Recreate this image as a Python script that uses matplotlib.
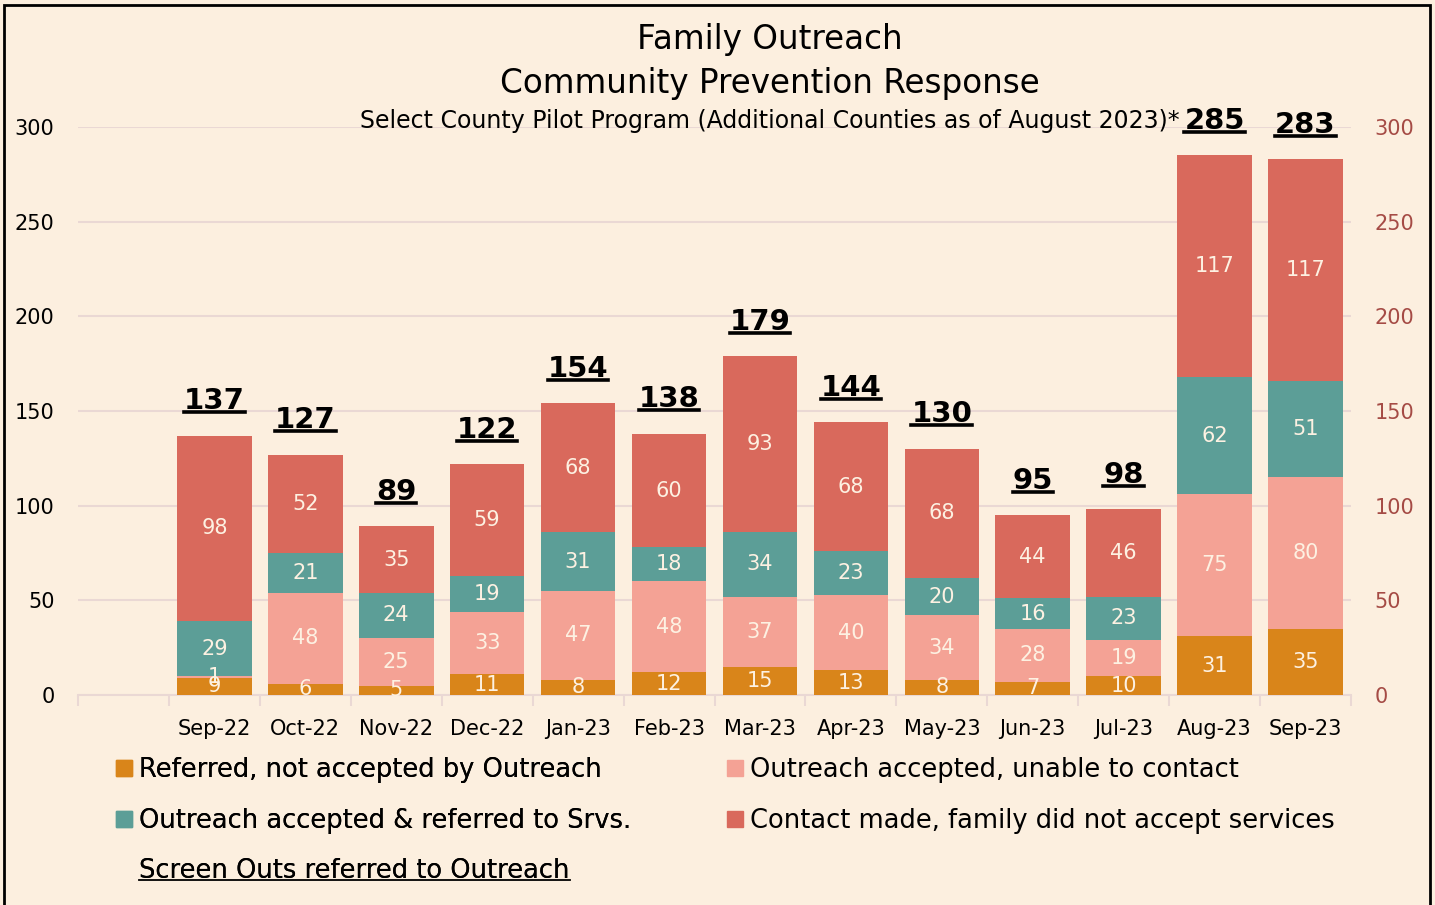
"""
Family Outreach - Community Prevention Response stacked bar chart.
"""

import numpy as np
import matplotlib
matplotlib.use("Agg")
import matplotlib.pyplot as plt
from matplotlib.lines import Line2D
from matplotlib.patches import Rectangle

months = ['Sep-22', 'Oct-22', 'Nov-22', 'Dec-22', 'Jan-23', 'Feb-23', 'Mar-23',
          'Apr-23', 'May-23', 'Jun-23', 'Jul-23', 'Aug-23', 'Sep-23']
referred_not_accepted = [9, 6, 5, 11, 8, 12, 15, 13, 8, 7, 10, 31, 35]
unable_to_contact = [1, 48, 25, 33, 47, 48, 37, 40, 34, 28, 19, 75, 80]
referred_to_srvs = [29, 21, 24, 19, 31, 18, 34, 23, 20, 16, 23, 62, 51]
did_not_accept = [98, 52, 35, 59, 68, 60, 93, 68, 68, 44, 46, 117, 117]
screen_outs = [137, 127, 89, 122, 154, 138, 179, 144, 130, 95, 98, 285, 283]

series = [
    ('Referred, not accepted by Outreach', referred_not_accepted, '#d9851a'),
    ('Outreach accepted, unable to contact', unable_to_contact, '#f4a295'),
    ('Outreach accepted & referred to Srvs.', referred_to_srvs, '#5c9e97'),
    ('Contact made, family did not accept services', did_not_accept, '#d9695c'),
]

BG = '#fcefdf'
GRID = '#ead8d4'
LABEL_CLR = '#fdf1e2'
RIGHT_CLR = '#a54b45'

plt.rcParams['font.family'] = ['DejaVu Sans']

W, H = 1435, 905
fig = plt.figure(figsize=(W / 100, H / 100), dpi=100, facecolor=BG)
ax = fig.add_axes([78 / W, 1 - 695 / H, (1351 - 78) / W, (695 - 127) / H])
ax.set_facecolor(BG)

# first slot on the category axis is left empty, as in the original
x = np.arange(1, len(months) + 1)
bottom = np.zeros(len(months))
handles = {}
for name, vals, color in series:
    bars = ax.bar(x, vals, width=0.82, bottom=bottom, color=color, label=name, zorder=3)
    ax.bar_label(bars, labels=[str(v) for v in vals], label_type='center',
                 color=LABEL_CLR, fontsize=15, zorder=4)
    handles[name] = Line2D([], [], linestyle='none', marker='s', markersize=11.5,
                           markerfacecolor=color, markeredgecolor=color)
    bottom += np.array(vals)

# totals (screen outs) drawn as an invisible series with labels
ax.plot(x, screen_outs, linestyle='none')
total_texts = []
for xi, t in zip(x, screen_outs):
    txt = ax.annotate(str(t), (xi, t), xytext=(0, 19), textcoords='offset points',
                      ha='center', va='baseline', fontsize=21, fontweight='bold')
    total_texts.append(txt)

ax.set_xlim(-0.5, len(months) + 0.5)
ax.set_ylim(0, 300)
ax.set_yticks(range(0, 301, 50))
ax.set_xticks(np.arange(0, len(months) + 1))
ax.set_xticklabels([''] + months)
ax.set_xticks(np.arange(-0.5, len(months) + 1), minor=True)
ax.tick_params(axis='x', which='major', length=0, pad=17, labelsize=15)
ax.tick_params(axis='x', which='minor', length=8, width=1.5, color=GRID)
ax.tick_params(axis='y', length=0, pad=17, labelsize=15)
ax.grid(axis='y', color=GRID, linewidth=1.5, zorder=0)
for s in ['top', 'left', 'right']:
    ax.spines[s].set_visible(False)
ax.spines['bottom'].set_color(GRID)
ax.spines['bottom'].set_linewidth(1.5)

ax2 = ax.twinx()
ax2.set_ylim(0, 300)
ax2.set_yticks(range(0, 301, 50))
ax2.tick_params(axis='y', length=0, pad=17, labelsize=15, labelcolor=RIGHT_CLR)
for s in ax2.spines.values():
    s.set_visible(False)

# titles
cx = 770 / W
fig.text(cx, 1 - 39 / H, 'Family Outreach', ha='center', va='center', fontsize=23.5)
fig.text(cx, 1 - 83 / H, 'Community Prevention Response', ha='center', va='center', fontsize=23.5)
fig.text(cx, 1 - 121 / H, 'Select County Pilot Program (Additional Counties as of August 2023)*',
         ha='center', va='center', fontsize=17)

# legend in two columns
names = [s[0] for s in series]
leg_kw = dict(loc='upper left', frameon=False, fontsize=18.5, handlelength=0.78,
              handletextpad=0.2, borderpad=0, borderaxespad=0, labelspacing=0.96)
leg1 = fig.legend([handles[names[0]], handles[names[2]], Line2D([], [], linestyle='none')],
                  [names[0], names[2], 'Screen Outs referred to Outreach'],
                  bbox_to_anchor=(114 / W, 1 - 757 / H), **leg_kw)
fig.add_artist(leg1)
leg2 = fig.legend([handles[names[1]], handles[names[3]]], [names[1], names[3]],
                  bbox_to_anchor=(725 / W, 1 - 757 / H), **leg_kw)

# frame around the picture
fig.add_artist(Rectangle((4 / W, -0.05), 1426 / W, 1.05 - 5 / H, transform=fig.transFigure,
                         fill=False, edgecolor='black', linewidth=2))

# underline the totals and the screen outs legend entry
fig.canvas.draw()
renderer = fig.canvas.get_renderer()
for txt in total_texts:
    bb = txt.get_window_extent(renderer)
    y = bb.y0 + 3
    fig.add_artist(Line2D([bb.x0 / W, bb.x1 / W], [y / H, y / H], transform=fig.transFigure,
                          color='black', linewidth=2.6))
bb = leg1.get_texts()[2].get_window_extent(renderer)
y = bb.y0 + 4
fig.add_artist(Line2D([bb.x0 / W, bb.x1 / W], [y / H, y / H], transform=fig.transFigure,
                      color='black', linewidth=1.3))

fig.savefig('out.png', dpi=100, facecolor=BG)
